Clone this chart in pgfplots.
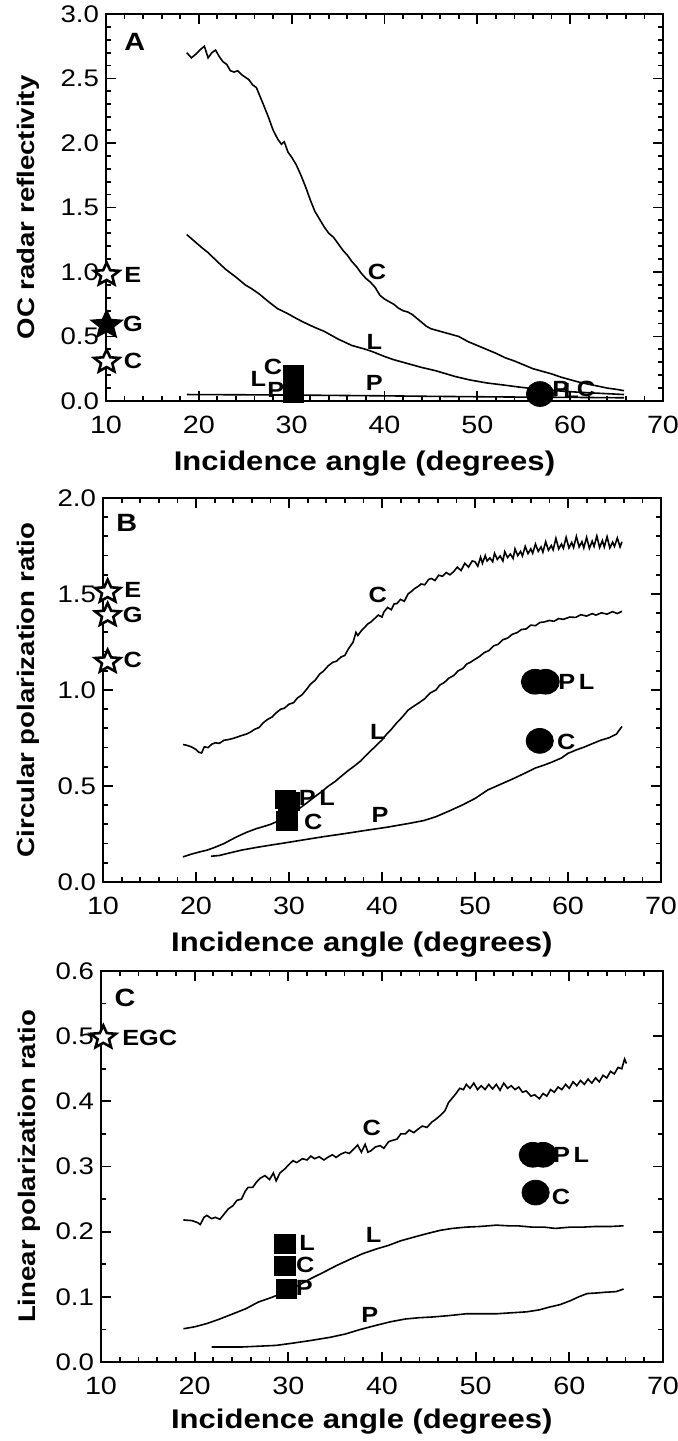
\documentclass[border=0pt]{standalone}
\usepackage{fontspec}
\setmainfont{Liberation Sans}[FakeStretch=1.15]
\usepackage{pgfplots}
\pgfplotsset{compat=1.18}

% five-pointed star mark
\pgfdeclareplotmark{fstar}{%
  \pgfpathmoveto{\pgfpointpolar{90}{\pgfplotmarksize}}%
  \pgfpathlineto{\pgfpointpolar{126}{0.45\pgfplotmarksize}}%
  \pgfpathlineto{\pgfpointpolar{162}{\pgfplotmarksize}}%
  \pgfpathlineto{\pgfpointpolar{198}{0.45\pgfplotmarksize}}%
  \pgfpathlineto{\pgfpointpolar{234}{\pgfplotmarksize}}%
  \pgfpathlineto{\pgfpointpolar{270}{0.45\pgfplotmarksize}}%
  \pgfpathlineto{\pgfpointpolar{306}{\pgfplotmarksize}}%
  \pgfpathlineto{\pgfpointpolar{342}{0.45\pgfplotmarksize}}%
  \pgfpathlineto{\pgfpointpolar{18}{\pgfplotmarksize}}%
  \pgfpathlineto{\pgfpointpolar{54}{0.45\pgfplotmarksize}}%
  \pgfpathclose
  \pgfusepathqfillstroke
}

\pgfplotsset{
  panel/.style={
    scale only axis, clip=false, anchor=south west,
    xmin=10, xmax=70, xtick={10,20,...,70}, minor x tick num=4,
    axis line style={line width=1.3pt},
    every tick/.style={black, line width=0.9pt},
    major tick length=5pt, minor tick length=2.5pt,
    /pgf/number format/assume math mode=true,
    xticklabel style={font=\fontsize{12.5}{13}\selectfont, yshift=-3.8pt},
    yticklabel style={font=\fontsize{12}{12}\selectfont,
      /pgf/number format/fixed, /pgf/number format/fixed zerofill,
      /pgf/number format/precision=1},
    xlabel={Incidence angle (degrees)},
    xlabel style={font=\bfseries\fontsize{13.5}{14}\selectfont,
      at={(axis description cs:0.464,0)}, anchor=base, yshift=-35pt},
    ylabel style={font=\bfseries\fontsize{12}{13}\selectfont, anchor=base},
  },
  curve/.style={black, line width=0.8pt, mark=none},
  ostar/.style={only marks, mark=fstar, mark size=6pt,
    mark options={fill=white, draw=black, line width=1.3pt, xscale=1.1}},
  bstar/.style={only marks, mark=fstar, mark size=7.5pt,
    mark options={fill=black, draw=black, line width=0.6pt, xscale=1.1}},
  sq/.style={only marks, mark=square*, mark size=4.7pt,
    mark options={fill=black, draw=black, xscale=1.1}},
  dot/.style={only marks, mark=*, mark size=6.2pt,
    mark options={fill=black, draw=black, xscale=1.1}},
}
\newcommand\lab[3]{\node[font=\bfseries\fontsize{11}{11}\selectfont, inner sep=0pt] at (axis cs:#1,#2) {#3};}
\newcommand\panellab[3]{\node[font=\bfseries\fontsize{12.5}{12}\selectfont, inner sep=0pt] at (axis cs:#1,#2) {#3};}

\begin{document}
\begin{tikzpicture}
\useasboundingbox (0,0) rectangle (338.5pt,720.5pt);

% ---------------- A ----------------
\begin{axis}[panel, at={(53pt,520pt)}, width=278.5pt, height=193.5pt,
  ymin=0, ymax=3, ytick={0,0.5,1,1.5,2,2.5,3}, minor y tick num=4,
  ylabel={OC radar reflectivity},
  ylabel style={at={(axis description cs:-0.1275,0.5)}}]
\addplot[curve] coordinates {
(18.7,2.70) (19.2,2.66) (19.7,2.69) (20.1,2.72) (20.6,2.75) (21.0,2.66)
(21.4,2.70) (21.8,2.72) (22.2,2.67) (22.6,2.63) (23.0,2.61) (23.4,2.56)
(23.8,2.55) (24.2,2.56) (24.6,2.53) (25.0,2.51) (25.4,2.49) (25.8,2.45)
(26.2,2.43) (26.6,2.36) (27.0,2.29) (27.5,2.20) (28.0,2.10) (28.5,2.03)
(28.9,1.99) (29.2,2.01) (29.6,1.93) (30.0,1.89) (30.5,1.83) (31.0,1.75)
(31.5,1.66) (32.0,1.56) (32.5,1.47) (33.0,1.41) (33.5,1.35) (34.0,1.30)
(34.5,1.27) (35.0,1.22) (35.5,1.17) (36.0,1.13) (36.5,1.08) (37.0,1.04)
(37.5,0.99) (38.0,0.95) (38.5,0.92) (39.0,0.88) (39.5,0.82) (40.0,0.79)
(40.5,0.77) (41.0,0.75) (41.5,0.72) (42.0,0.70) (42.5,0.69) (43.0,0.67)
(43.5,0.64) (44.0,0.61) (44.5,0.58) (45.0,0.56) (45.5,0.55) (46.0,0.54)
(46.5,0.53) (47.0,0.52) (47.5,0.51) (48.0,0.50) (48.5,0.48) (49.0,0.46)
(50.0,0.43) (51.0,0.40) (52.0,0.37) (53.0,0.335) (54.0,0.31) (55.0,0.28)
(56.0,0.25) (57.0,0.23) (58.0,0.21) (59.0,0.185) (60.0,0.165) (61.0,0.145)
(62.0,0.13) (63.0,0.115) (64.0,0.10) (65.0,0.09) (65.8,0.08)
};
\addplot[curve] coordinates {
(18.7,1.29) (19.5,1.24) (20.3,1.19) (21.0,1.15) (22.0,1.08) (22.9,1.02)
(24.0,0.96) (25.0,0.90) (25.7,0.87) (26.5,0.83) (27.5,0.77) (28.5,0.715)
(29.5,0.68) (30.5,0.64) (31.3,0.61) (32.5,0.57) (33.5,0.54) (35.0,0.48)
(36.5,0.43) (38.0,0.40) (38.8,0.38) (40.0,0.345) (41.0,0.32) (42.5,0.29)
(44.0,0.26) (45.5,0.235) (47.6,0.19) (49.2,0.163) (51.0,0.14) (52.8,0.124)
(54.5,0.108) (55.7,0.098) (57.5,0.085) (60.0,0.072) (62.5,0.062) (65.8,0.05)
};
\addplot[curve] coordinates {
(18.7,0.05) (25,0.048) (30,0.046) (35,0.043) (40,0.04) (45,0.036)
(50,0.033) (55,0.03) (60,0.028) (65.8,0.025)
};
\addplot[ostar] coordinates {(10.07,0.98) (10.07,0.305)};
\addplot[bstar] coordinates {(10.07,0.59)};
\addplot[sq] coordinates {(30.2,0.20) (30.2,0.13) (30.2,0.06)};
\addplot[dot] coordinates {(56.75,0.054)};
\panellab{13.1}{2.78}{A}
\lab{12.9}{0.98}{E} \lab{12.9}{0.60}{G} \lab{12.9}{0.31}{C}
\lab{39.2}{1.0}{C} \lab{38.9}{0.46}{L} \lab{38.9}{0.14}{P}
\lab{28.0}{0.262}{C} \lab{26.4}{0.17}{L} \lab{28.3}{0.085}{P}
\lab{59.0}{0.09}{P} \lab{60.1}{0.08}{L} \lab{61.7}{0.09}{C}
\end{axis}

% ---------------- B ----------------
\begin{axis}[panel, at={(51.5pt,279.5pt)}, width=279pt, height=192pt,
  ymin=0, ymax=2, ytick={0,0.5,1,1.5,2}, minor y tick num=4,
  ylabel={Circular polarization ratio},
  ylabel style={at={(axis description cs:-0.1219,0.5)}}]
\addplot[curve] coordinates {
(18.6,0.716) (19.0,0.712) (19.5,0.704) (20.0,0.690) (20.3,0.676) (20.6,0.672)
(20.9,0.704) (21.3,0.700) (21.7,0.718) (22.1,0.725) (22.5,0.722) (23.0,0.738)
(23.5,0.742) (24.0,0.748) (24.5,0.756) (24.9,0.763) (25.4,0.770) (25.9,0.782)
(26.3,0.795) (26.8,0.805) (27.2,0.828) (27.7,0.847) (28.2,0.860) (28.6,0.880)
(29.1,0.900) (29.5,0.905) (30.0,0.926) (30.5,0.934) (30.9,0.958) (31.4,0.975)
(31.9,1.004) (32.3,1.030) (32.8,1.050) (33.3,1.083) (33.7,1.098) (34.2,1.125)
(34.7,1.144) (35.1,1.150) (35.6,1.172) (36.0,1.180) (36.4,1.215) (36.9,1.250)
(37.2,1.300) (37.4,1.284) (37.8,1.310) (38.2,1.330) (38.5,1.345) (38.8,1.354)
(39.2,1.372) (39.6,1.390) (40.0,1.380) (40.2,1.406) (40.6,1.430) (41.0,1.418)
(41.3,1.448) (41.6,1.450) (42.0,1.472) (42.4,1.462) (42.8,1.500) (43.2,1.515)
(43.5,1.528) (43.9,1.540) (44.2,1.552) (44.6,1.548) (45.0,1.575) (45.3,1.581)
(45.7,1.570) (46.1,1.598) (46.5,1.592) (46.9,1.612) (47.3,1.600) (47.7,1.616)
(48.1,1.640) (48.5,1.622) (48.9,1.660) (49.3,1.640) (49.7,1.672)
(50.0,1.668) (50.3,1.645) (50.6,1.692) (50.8,1.660) (51.1,1.700) (51.3,1.672)
(51.6,1.688) (51.9,1.668) (52.1,1.712) (52.4,1.680) (52.7,1.698) (53.0,1.672)
(53.2,1.720) (53.5,1.690) (53.8,1.708) (54.1,1.685) (54.3,1.735) (54.6,1.700)
(54.9,1.722) (55.1,1.698) (55.4,1.748) (55.7,1.710) (56.0,1.735) (56.2,1.712)
(56.5,1.760) (56.8,1.722) (57.1,1.745) (57.3,1.718) (57.6,1.772) (57.9,1.728)
(58.2,1.752) (58.4,1.730) (58.7,1.790) (59.0,1.735) (59.3,1.760) (59.5,1.738)
(59.8,1.795) (60.1,1.740) (60.4,1.768) (60.6,1.742) (60.9,1.800) (61.2,1.745)
(61.5,1.772) (61.7,1.740) (62.0,1.795) (62.3,1.738) (62.6,1.775) (62.8,1.748)
(63.1,1.802) (63.4,1.742) (63.7,1.778) (63.9,1.745) (64.2,1.798) (64.5,1.740)
(64.8,1.770) (65.0,1.748) (65.3,1.792) (65.6,1.745) (65.8,1.772)
};
\addplot[curve] coordinates {
(18.6,0.131) (19.5,0.145) (20.5,0.158) (21.2,0.166) (22.0,0.180) (23.0,0.200)
(24.4,0.236) (25.5,0.260) (26.5,0.278) (27.2,0.288) (28.0,0.300) (29.1,0.323)
(30.0,0.345) (30.7,0.370) (31.4,0.393) (32.0,0.415) (32.8,0.445) (33.5,0.470)
(34.2,0.498) (35.0,0.525) (35.6,0.550) (36.3,0.578) (37.0,0.603) (37.7,0.630)
(38.5,0.670) (39.3,0.707) (40.0,0.740) (40.5,0.770) (41.0,0.795) (41.6,0.830)
(42.2,0.860) (42.8,0.895) (43.4,0.915) (44.0,0.934) (44.6,0.955) (45.2,0.985)
(45.8,1.000) (46.2,1.025) (46.7,1.039) (47.2,1.062) (47.7,1.075) (48.2,1.100)
(48.7,1.112) (49.1,1.135) (49.5,1.144) (50.0,1.160) (50.5,1.175) (51.0,1.195)
(51.5,1.205) (52.0,1.230) (52.5,1.238) (53.0,1.262) (53.5,1.270) (54.0,1.290)
(54.5,1.298) (55.0,1.315) (55.5,1.318) (56.0,1.338) (56.5,1.335) (57.0,1.352)
(57.4,1.354) (58.0,1.362) (58.5,1.358) (59.0,1.372) (59.5,1.368) (60.2,1.380)
(60.8,1.378) (61.4,1.392) (62.0,1.385) (62.6,1.398) (63.0,1.390) (63.6,1.402)
(64.2,1.395) (64.8,1.408) (65.3,1.398) (65.8,1.410)
};
\addplot[curve] coordinates {
(21.6,0.134) (22.5,0.138) (23.5,0.150) (24.9,0.166) (26.5,0.180) (28.0,0.192)
(29.1,0.200) (31.0,0.215) (33.7,0.236) (36.0,0.252) (38.4,0.270) (40.5,0.285)
(43.0,0.306) (44.5,0.320) (45.8,0.340) (47.0,0.365) (48.6,0.400) (50.0,0.435)
(51.4,0.480) (52.8,0.510) (54.2,0.540) (55.5,0.570) (56.5,0.594) (57.5,0.610)
(58.3,0.625) (59.3,0.646) (60.0,0.670) (61.0,0.690) (61.6,0.700) (62.5,0.718)
(63.5,0.738) (64.4,0.751) (65.2,0.770) (65.8,0.810)
};
\addplot[ostar] coordinates {(10.5,1.512) (10.5,1.39) (10.5,1.147)};
\addplot[sq] coordinates {(29.6,0.43) (30.0,0.42) (29.8,0.318)};
\addplot[dot] coordinates {(56.45,1.043) (57.6,1.043) (56.96,0.735)};
\panellab{12.55}{1.872}{B}
\lab{13.2}{1.52}{E} \lab{13.2}{1.39}{G} \lab{13.2}{1.155}{C}
\lab{39.55}{1.495}{C} \lab{39.55}{0.783}{L} \lab{39.8}{0.349}{P}
\lab{33.0}{0.4375}{P\,L} \lab{32.6}{0.314}{C}
\lab{60.9}{1.043}{P\,L} \lab{59.8}{0.73}{C}
\end{axis}

% ---------------- C ----------------
\begin{axis}[panel, at={(50.5pt,39.5pt)}, width=281pt, height=195.5pt,
  ymin=0, ymax=0.6, ytick={0,0.1,0.2,0.3,0.4,0.5,0.6}, minor y tick num=1,
  ylabel={Linear polarization ratio},
  ylabel style={at={(axis description cs:-0.1174,0.5)}},
  xlabel style={yshift=2pt}]
\addplot[curve] coordinates {
(18.8,0.218) (19.7,0.217) (20.3,0.214) (20.6,0.211) (21.0,0.222) (21.3,0.225)
(21.8,0.220) (22.2,0.222) (22.7,0.219) (23.2,0.228) (23.6,0.235) (24.1,0.240)
(24.5,0.248) (25.0,0.250) (25.4,0.262) (25.7,0.268) (26.2,0.268) (26.6,0.276)
(27.0,0.282) (27.5,0.286) (28.0,0.280) (28.4,0.290) (28.7,0.278) (29.1,0.290)
(29.6,0.296) (30.0,0.302) (30.5,0.309) (30.9,0.306) (31.5,0.312) (32.0,0.310)
(32.4,0.316) (32.8,0.312) (33.3,0.315) (33.8,0.310) (34.2,0.314) (34.7,0.318)
(35.1,0.314) (35.6,0.319) (36.1,0.322) (36.5,0.320) (37.0,0.327) (37.4,0.333)
(37.8,0.322) (38.2,0.334) (38.5,0.322) (38.8,0.324) (39.3,0.330) (39.8,0.332)
(40.2,0.328) (40.7,0.338) (41.1,0.340) (41.6,0.342) (42.0,0.350) (42.5,0.350)
(42.9,0.356) (43.4,0.352) (43.9,0.358) (44.3,0.362) (44.8,0.360) (45.3,0.368)
(45.7,0.372) (46.2,0.378) (46.7,0.385) (47.1,0.398) (47.5,0.405) (47.9,0.412)
(48.3,0.420) (48.7,0.418) (49.0,0.426) (49.4,0.420) (49.8,0.428) (50.2,0.418)
(50.6,0.424) (51.0,0.418) (51.4,0.426) (51.8,0.419) (52.2,0.426) (52.6,0.417)
(53.0,0.428) (53.4,0.420) (53.8,0.424) (54.2,0.418) (54.6,0.422) (55.0,0.414)
(55.4,0.416) (55.9,0.408) (56.3,0.410) (56.8,0.404) (57.2,0.412) (57.6,0.408)
(58.0,0.418) (58.4,0.414) (58.8,0.422) (59.2,0.418) (59.6,0.426) (60.0,0.420)
(60.4,0.430) (60.8,0.424) (61.2,0.432) (61.6,0.426) (62.0,0.434) (62.4,0.428)
(62.8,0.436) (63.2,0.430) (63.6,0.440) (64.0,0.436) (64.4,0.446) (64.8,0.442)
(65.2,0.452) (65.6,0.450) (65.9,0.465) (66.1,0.458)
};
\addplot[curve] coordinates {
(18.8,0.051) (20.0,0.054) (21.3,0.059) (22.5,0.065) (24.1,0.074) (25.5,0.082)
(26.8,0.092) (28.2,0.099) (29.6,0.107) (31.0,0.117) (32.4,0.128) (33.8,0.138)
(35.15,0.148) (36.5,0.157) (37.9,0.166) (39.3,0.173) (40.7,0.179) (42.0,0.186)
(43.5,0.192) (44.8,0.197) (46.2,0.202) (47.5,0.205) (49.0,0.207) (50.5,0.208)
(52.2,0.210) (53.5,0.209) (54.5,0.209) (56.0,0.207) (57.3,0.207) (58.5,0.205)
(60.1,0.207) (61.5,0.207) (62.8,0.208) (64.5,0.208) (65.8,0.209)
};
\addplot[curve] coordinates {
(21.8,0.023) (25.0,0.023) (28.7,0.0255) (30.5,0.029) (32.4,0.033) (34.5,0.038)
(36.1,0.043) (37.7,0.050) (39.3,0.056) (41.0,0.062) (42.5,0.066) (44.0,0.068)
(45.3,0.069) (47.0,0.071) (49.0,0.074) (52.2,0.074) (55.45,0.077) (56.8,0.080)
(57.8,0.084) (59.0,0.088) (60.1,0.094) (61.0,0.100) (61.9,0.105) (63.0,0.106)
(63.8,0.107) (65.0,0.108) (65.8,0.112)
};
\addplot[ostar] coordinates {(10.25,0.498)};
\addplot[sq] coordinates {(29.65,0.181) (29.65,0.147) (29.8,0.112)};
\addplot[dot] coordinates {(56.1,0.318) (57.2,0.318) (56.4,0.260)};
\panellab{12.56}{0.559}{C}
\lab{15.2}{0.498}{EGC}
\lab{38.9}{0.359}{C} \lab{39.1}{0.195}{L} \lab{38.7}{0.072}{P}
\lab{32.0}{0.183}{L} \lab{31.8}{0.149}{C} \lab{31.7}{0.113}{P}
\lab{60.2}{0.318}{P\,L} \lab{59.1}{0.254}{C}
\end{axis}
\end{tikzpicture}
\end{document}
